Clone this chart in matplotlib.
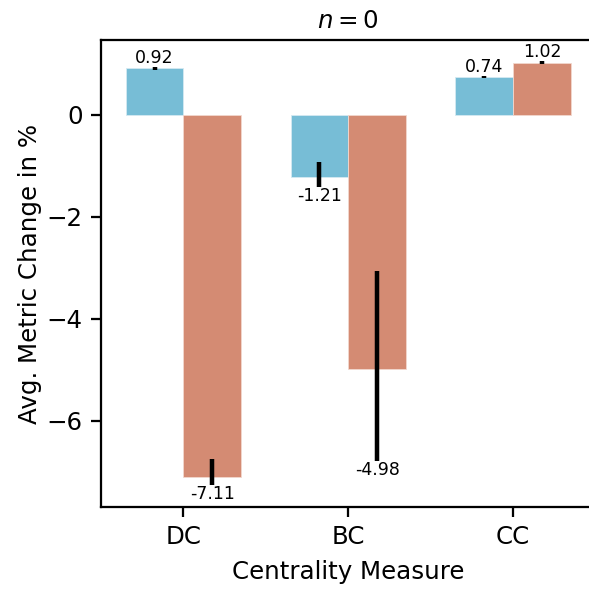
#Grouped bar chart of avg. metric change per centrality measure, n = 0
import numpy as np
import matplotlib.pyplot as plt

measures = ['DC', 'BC', 'CC']

#mean change in % for the two groups
blue_vals = [0.92, -1.21, 0.74]
orange_vals = [-7.11, -4.98, 1.02]

#error bar extents (below, above)
blue_err_low = [0.03, 0.20, 0.02]
blue_err_high = [0.03, 0.29, 0.02]
orange_err_low = [0.14, 1.80, 0.03]
orange_err_high = [0.36, 1.92, 0.03]

blue = '#77BDD6'
orange = '#D48B73'

fig = plt.figure(figsize=(4, 4), dpi=147.25)
ax = fig.add_axes([101/589, 82/589, 494.5/589, 467/589])

x = np.arange(len(measures))
w = 0.35
err_style = dict(elinewidth=2.2, ecolor='black', capsize=0)

b1 = ax.bar(x - w/2, blue_vals, w, color=blue, edgecolor='#d5eaf2', linewidth=0.4,
            yerr=[blue_err_low, blue_err_high], error_kw=err_style)
b2 = ax.bar(x + w/2, orange_vals, w, color=orange, edgecolor='#f2d8cf', linewidth=0.4,
            yerr=[orange_err_low, orange_err_high], error_kw=err_style)

ax.bar_label(b1, fmt='%.2f', fontsize=8.5)
ax.bar_label(b2, fmt='%.2f', fontsize=8.5)

for s in ax.spines.values():
    s.set_linewidth(1.1)
ax.tick_params(length=5, width=1.1, pad=4, labelsize=12)

ax.set_xticks(x)
ax.set_xticklabels(measures)
ax.set_yticks([0, -2, -4, -6])
ax.set_xlim(-0.5, 2.5)
ax.set_ylim(-7.69, 1.47)

ax.set_xlabel('Centrality Measure', fontsize=12, labelpad=5)
ax.set_ylabel('Avg. Metric Change in %', fontsize=12, labelpad=2)
ax.set_title('$n = 0$', fontsize=12, pad=6)

plt.savefig('out.png', dpi=147.25)
